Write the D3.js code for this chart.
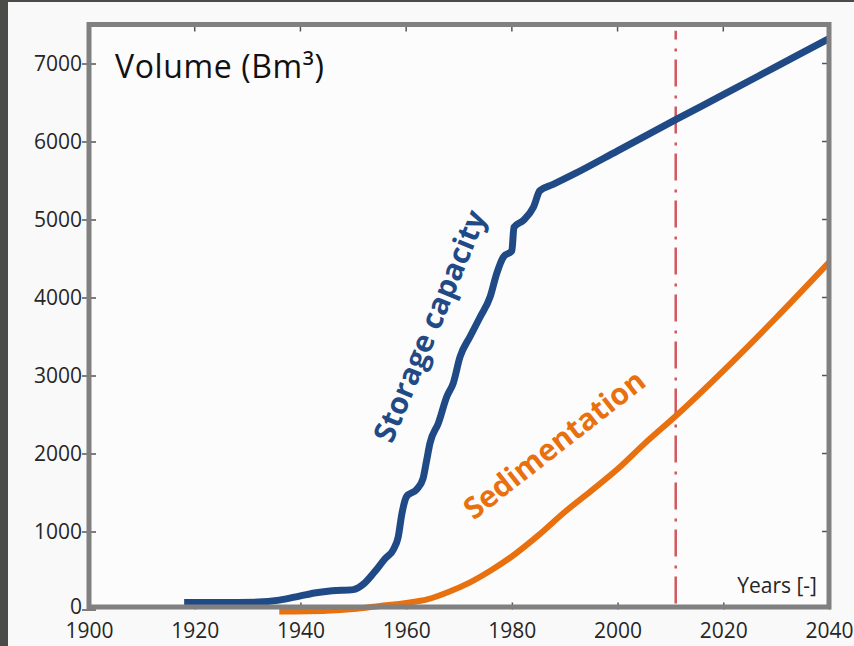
<!DOCTYPE html>
<html>
<head>
    <meta charset="UTF-8">
    <title>Storage capacity and sedimentation</title>
    <style>
        body {
            margin: 0;
            overflow: hidden;
            background-color: #4b4b47;
        }
        svg { display: block; }
    </style>
    <script src="https://cdn.jsdelivr.net/npm/d3@7"></script>
</head>
<body>
    <script>
        // values (Bm3 per year)
        const storageYears = [1918, 1925, 1932, 1936, 1940, 1943, 1946, 1950, 1952, 1954, 1956, 1957.6, 1958.5, 1959.2, 1960.1,
            1962, 1963.2, 1963.9, 1964.5, 1966.1, 1967.7, 1968.9, 1970.2, 1972.1, 1974, 1975.9, 1977.1, 1978.4, 1980,
            1980.4, 1982.2, 1984.1, 1985.3, 1987.8, 1992, 2000, 2011, 2020, 2030, 2040];
        const storageValues = [90, 90, 95, 120, 175, 215, 240, 255, 330, 480, 650, 770, 930, 1230, 1450,
            1540, 1680, 1920, 2130, 2390, 2730, 2900, 3240, 3500, 3750, 4010, 4300, 4520, 4600,
            4900, 4990, 5160, 5370, 5450, 5590, 5880, 6280, 6600, 6960, 7320];

        const sedimentYears = [1936, 1945, 1950, 1955, 1960, 1964, 1968, 1972, 1976, 1980, 1985, 1990, 1995, 2000, 2005, 2011, 2020, 2030, 2040];
        const sedimentValues = [-25, -15, 5, 45, 85, 130, 225, 345, 500, 680, 950, 1250, 1520, 1800, 2120, 2480, 3060, 3740, 4450];

        const xTicks = [1900, 1920, 1940, 1960, 1980, 2000, 2020, 2040];
        const yTicks = [0, 1000, 2000, 3000, 4000, 5000, 6000, 7000];
        const markerYear = 2011;

        const width = 854;
        const height = 646;
        const font = '"Open Sans", sans-serif';
        const svg = d3.select('body')
            .append('svg')
            .attr('width', width)
            .attr('height', height);

        // light sheet, the dark strip stays visible on the left and top
        svg.append('rect')
            .attr('x', 8).attr('y', 2)
            .attr('width', width - 8).attr('height', height - 2)
            .attr('fill', '#f9f9f9');

        const x = d3.scaleLinear().domain([1900, 2040]).range([89, 829]);
        const y = d3.scaleLinear().domain([0, 7500]).range([609.5, 24.5]);

        const frameBottom = y(0) - 2.5;

        svg.append('rect')
            .attr('x', x(1900)).attr('y', y(7500))
            .attr('width', x(2040) - x(1900)).attr('height', frameBottom - y(7500))
            .attr('fill', '#fcfcfc');

        // axes (labels + inner ticks)
        const yAxis = svg.append('g')
            .attr('transform', `translate(${x(1900)},0)`)
            .call(d3.axisLeft(y).tickValues(yTicks).tickFormat(d3.format('d'))
                .tickSizeInner(-7).tickSizeOuter(0).tickPadding(7));
        const xAxis = svg.append('g')
            .attr('transform', `translate(0,${y(0)})`)
            .call(d3.axisBottom(x).tickValues(xTicks).tickFormat(d3.format('d'))
                .tickSizeInner(-7).tickSizeOuter(0).tickPadding(14));

        [yAxis, xAxis].forEach(g => {
            g.select('.domain').remove();
            g.selectAll('.tick line').attr('stroke', '#555').attr('stroke-width', 1.5);
            g.selectAll('.tick text')
                .attr('fill', '#262626')
                .style('font-family', font)
                .style('font-size', '21px');
        });
        yAxis.selectAll('.tick line').attr('x1', -7);
        // the zero sits a touch higher so it only just meets the 1900
        yAxis.selectAll('.tick text').filter(d => d === 0).attr('dy', '0.2em');

        // ticks on the right and top side of the box
        svg.selectAll('.rtick')
            .data(yTicks.slice(1))
            .join('line')
            .attr('x1', x(2040) - 7).attr('x2', x(2040))
            .attr('y1', d => y(d)).attr('y2', d => y(d))
            .attr('stroke', '#555').attr('stroke-width', 1.5);
        svg.selectAll('.ttick')
            .data(xTicks.slice(1, -1))
            .join('line')
            .attr('x1', d => x(d)).attr('x2', d => x(d))
            .attr('y1', y(7500)).attr('y2', y(7500) + 7)
            .attr('stroke', '#555').attr('stroke-width', 1.5);

        const line = d3.line()
            .x(d => x(d[0]))
            .y(d => y(d[1]))
            .curve(d3.curveMonotoneX);

        const storage = storageYears.map((yr, i) => [yr, storageValues[i]]);
        const sediment = sedimentYears.map((yr, i) => [yr, sedimentValues[i]]);

        // present-day marker
        svg.append('line')
            .attr('x1', x(markerYear)).attr('x2', x(markerYear))
            .attr('y1', y(0)).attr('y2', y(7420))
            .attr('stroke', '#d0585e')
            .attr('stroke-width', 2.5)
            .attr('stroke-dasharray', '27,8,3,9')
            .attr('stroke-dashoffset', -6);

        svg.append('path')
            .datum(sediment)
            .attr('d', line)
            .attr('fill', 'none')
            .attr('stroke', '#e8700e')
            .attr('stroke-width', 6);

        svg.append('path')
            .datum(storage)
            .attr('d', line)
            .attr('fill', 'none')
            .attr('stroke', '#1f4a86')
            .attr('stroke-width', 7)
            .attr('stroke-linejoin', 'round');

        // box
        svg.append('rect')
            .attr('x', x(1900)).attr('y', y(7500))
            .attr('width', x(2040) - x(1900)).attr('height', frameBottom - y(7500))
            .attr('fill', 'none')
            .attr('stroke', '#808080')
            .attr('stroke-width', 5);

        // text
        svg.append('text')
            .attr('x', 115).attr('y', 78)
            .style('font-family', font)
            .style('font-size', '32px')
            .style('letter-spacing', '0.6px')
            .attr('fill', '#111')
            .text('Volume (Bm³)');

        svg.append('text')
            .attr('x', 817).attr('y', 593)
            .attr('text-anchor', 'end')
            .style('font-family', font)
            .style('font-size', '21px')
            .attr('fill', '#262626')
            .text('Years [-]');

        svg.append('text')
            .attr('transform', `translate(${x(1964.9)},${y(3620)}) rotate(-67.5)`)
            .attr('text-anchor', 'middle')
            .attr('dominant-baseline', 'middle')
            .style('font-family', font)
            .style('font-weight', 700)
            .style('font-size', '30px')
            .attr('fill', '#1f4a86')
            .text('Storage capacity');

        svg.append('text')
            .attr('transform', `translate(${x(1988.3)},${y(2090)}) rotate(-38)`)
            .attr('text-anchor', 'middle')
            .attr('dominant-baseline', 'middle')
            .style('font-family', font)
            .style('font-weight', 700)
            .style('font-size', '30px')
            .attr('fill', '#e8700e')
            .text('Sedimentation');
    </script>
</body>
</html>
